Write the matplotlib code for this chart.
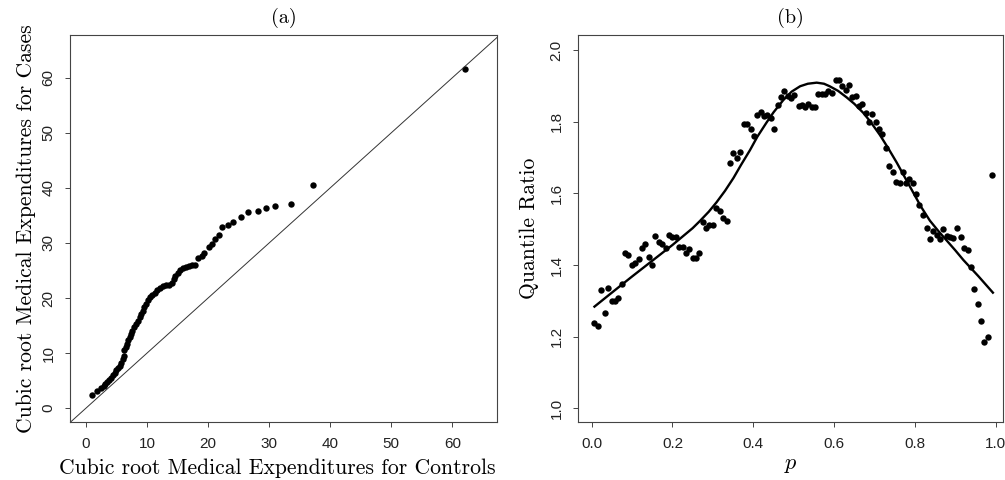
import matplotlib
matplotlib.use("Agg")
import matplotlib.pyplot as plt

plt.rcParams['mathtext.fontset'] = 'cm'

# panel (a): cubic root expenditures, controls (x) vs cases (y)
controls = [1.0, 1.85, 2.5, 2.9, 3.2, 3.5, 3.8, 4.1, 4.4, 4.7, 5.0, 5.3, 5.6, 5.8,
            6.0, 6.2, 6.3, 6.5, 6.7, 6.9, 7.2, 7.4, 7.6, 7.9, 8.2, 8.5, 8.8, 9.0,
            9.3, 9.5, 9.8, 10.1, 10.5, 10.9, 11.3, 11.7, 12.1, 12.6, 13.1, 13.6,
            14.1, 14.4, 14.6, 15.0, 15.4, 15.9, 16.4, 16.9, 17.4, 17.9,
            18.4, 19.0, 19.4, 20.1, 20.6, 21.1, 21.8, 22.3, 23.2, 24.1, 25.4,
            26.6, 28.1, 29.5, 31.0, 33.55, 37.25, 62.0]
cases = [2.4, 3.1, 3.7, 4.0, 4.4, 4.8, 5.1, 5.5, 6.0, 6.4, 6.9, 7.3, 7.7, 8.3,
         9.0, 9.5, 10.6, 11.1, 11.7, 12.3, 12.9, 13.5, 14.1, 14.7, 15.3, 15.9,
         16.5, 17.1, 17.7, 18.3, 19.0, 19.6, 20.1, 20.5, 21.0, 21.5, 21.9, 22.2,
         22.4, 22.3, 22.7, 23.4, 24.0, 24.6, 25.1, 25.4, 25.7, 25.9, 26.0, 26.0,
         27.3, 27.6, 28.1, 29.3, 29.8, 30.7, 31.4, 32.9, 33.3, 33.8, 34.8,
         35.6, 35.8, 36.4, 36.7, 37.08, 40.5, 61.6]

# panel (b): quantile ratio by p
p_pts = [0.0066, 0.015, 0.023, 0.032, 0.040, 0.050, 0.058, 0.066, 0.074, 0.083,
         0.091, 0.100, 0.108, 0.116, 0.125, 0.133, 0.141, 0.149, 0.158, 0.166,
         0.175, 0.183, 0.191, 0.200, 0.208, 0.216, 0.225, 0.233, 0.242, 0.250,
         0.258, 0.266, 0.275, 0.283, 0.291, 0.300, 0.309, 0.318, 0.326, 0.334,
         0.342, 0.351, 0.359, 0.367, 0.377, 0.385, 0.394, 0.402, 0.410, 0.418,
         0.427, 0.435, 0.443, 0.451, 0.460, 0.469, 0.477, 0.485, 0.493, 0.502,
         0.512, 0.520, 0.528, 0.536, 0.545, 0.553, 0.561, 0.569, 0.578, 0.586,
         0.594, 0.604, 0.612, 0.620, 0.629, 0.637, 0.645, 0.653, 0.662, 0.670,
         0.678, 0.686, 0.695, 0.703, 0.711, 0.719, 0.729, 0.737, 0.745, 0.753,
         0.762, 0.770, 0.778, 0.786, 0.795, 0.803, 0.811, 0.820, 0.829, 0.837,
         0.845, 0.854, 0.862, 0.870, 0.879, 0.887, 0.895, 0.905, 0.913, 0.922,
         0.931, 0.939, 0.947, 0.955, 0.964, 0.972, 0.980, 0.990]
ratio = [1.237, 1.230, 1.330, 1.265, 1.335, 1.300, 1.300, 1.309, 1.346, 1.434,
         1.428, 1.400, 1.405, 1.416, 1.447, 1.458, 1.422, 1.400, 1.482, 1.465,
         1.460, 1.447, 1.484, 1.477, 1.477, 1.449, 1.449, 1.433, 1.444, 1.420,
         1.419, 1.435, 1.521, 1.504, 1.512, 1.512, 1.558, 1.552, 1.530, 1.524,
         1.684, 1.712, 1.698, 1.716, 1.793, 1.794, 1.779, 1.760, 1.819, 1.826,
         1.817, 1.819, 1.809, 1.780, 1.848, 1.870, 1.886, 1.873, 1.867, 1.874,
         1.844, 1.847, 1.840, 1.849, 1.842, 1.842, 1.876, 1.877, 1.877, 1.887,
         1.881, 1.916, 1.916, 1.900, 1.888, 1.902, 1.870, 1.872, 1.844, 1.849,
         1.823, 1.800, 1.821, 1.798, 1.780, 1.765, 1.727, 1.677, 1.660, 1.633,
         1.628, 1.660, 1.630, 1.639, 1.630, 1.597, 1.567, 1.540, 1.504, 1.474,
         1.495, 1.484, 1.474, 1.500, 1.481, 1.477, 1.476, 1.504, 1.477, 1.447,
         1.442, 1.395, 1.333, 1.291, 1.244, 1.186, 1.200, 1.651]

# smooth fit
p_fit = [0.007, 0.05, 0.10, 0.15, 0.20, 0.25, 0.268, 0.29, 0.309, 0.33, 0.351,
         0.37, 0.392, 0.41, 0.433, 0.45, 0.474, 0.495, 0.516, 0.535, 0.557,
         0.575, 0.589, 0.61, 0.631, 0.65, 0.672, 0.69, 0.714, 0.735, 0.755,
         0.775, 0.796, 0.815, 0.837, 0.858, 0.879, 0.90, 0.920, 0.957, 0.993]
ratio_fit = [1.284, 1.323, 1.368, 1.412, 1.456, 1.503, 1.523, 1.549, 1.575, 1.607,
             1.643, 1.680, 1.721, 1.758, 1.798, 1.826, 1.860, 1.884, 1.899, 1.906,
             1.909, 1.906, 1.899, 1.886, 1.868, 1.850, 1.825, 1.800, 1.762, 1.724,
             1.686, 1.645, 1.602, 1.563, 1.524, 1.495, 1.468, 1.441, 1.414, 1.369,
             1.323]

serif = 'cmr10'
tickfont = 'Liberation Sans'
W, H = 1005, 480

fig = plt.figure(figsize=(W / 100, H / 100), dpi=100)
ax1 = fig.add_axes([70 / W, 58 / H, 427.3 / W, 387 / H])
ax2 = fig.add_axes([578.3 / W, 58 / H, 424.7 / W, 387 / H])

for ax in (ax1, ax2):
    for s in ax.spines.values():
        s.set_color('#444444')
        s.set_linewidth(0.8)
    ax.tick_params(direction='out', length=3.5, width=0.7, color='#444444',
                   labelsize=11, labelcolor='#222222', pad=7)

ax1.plot(controls, cases, 'o', color='black', ms=4.6, mec='none')
ax1.axline((0, 0), slope=1, color='#333333', lw=0.7)
ax1.set_xlim(-2.6, 67.35)
ax1.set_ylim(-2.5, 67.75)
ax1.set_xticks([0, 10, 20, 30, 40, 50, 60])
ax1.set_yticks([0, 10, 20, 30, 40, 50, 60])
ax1.set_xlabel('Cubic root Medical Expenditures for Controls', fontfamily=serif,
               fontsize=15.6)
ax1.xaxis.set_label_coords(0.485, -0.093)
ax1.set_ylabel('Cubic root Medical Expenditures for Cases', fontfamily=serif,
               fontsize=15.6, labelpad=4)
ax1.set_title('(a)', fontfamily=serif, fontsize=14.5, pad=9)

ax2.plot(p_pts, ratio, 'o', color='black', ms=4.6, mec='none')
ax2.plot(p_fit, ratio_fit, '-', color='black', lw=1.7)
ax2.set_xlim(-0.033, 1.018)
ax2.set_ylim(0.962, 2.042)
ax2.set_xticks([0.0, 0.2, 0.4, 0.6, 0.8, 1.0])
ax2.set_xticklabels(['0.0', '0.2', '0.4', '0.6', '0.8', '1.0'])
ax2.set_yticks([1.0, 1.2, 1.4, 1.6, 1.8, 2.0])
ax2.set_yticklabels(['1.0', '1.2', '1.4', '1.6', '1.8', '2.0'])
ax2.set_xlabel('$p$', fontsize=16, labelpad=3)
ax2.set_ylabel('Quantile Ratio', fontfamily=serif, fontsize=15.6, labelpad=8)
ax2.set_title('(b)', fontfamily=serif, fontsize=14.5, pad=9)

for ax in (ax1, ax2):
    for lab in ax.get_xticklabels() + ax.get_yticklabels():
        lab.set_fontfamily(tickfont)
    for lab in ax.get_yticklabels():
        lab.set_rotation(90)
        lab.set_va('center')

fig.savefig('out.png', dpi=100)
